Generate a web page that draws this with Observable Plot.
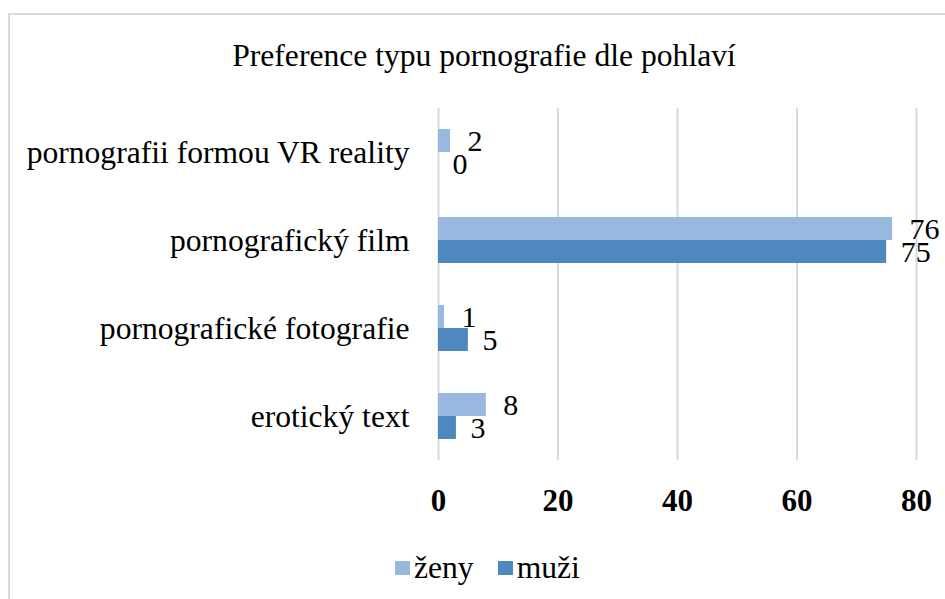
<!DOCTYPE html>
<html>
<head>
<meta charset="utf-8">
<script src="https://cdn.jsdelivr.net/npm/d3@7"></script>
<script src="https://cdn.jsdelivr.net/npm/@observablehq/plot@0.6"></script>
<style>
  html, body { margin: 0; padding: 0; background: #fff; }
  #wrap { position: relative; width: 945px; height: 599px; overflow: hidden; font-family: "Liberation Serif", "Times New Roman", serif; color: #000; }
  #frame { position: absolute; left: 8px; top: 13px; width: 1000px; height: 700px; border: 2px solid #d9d9d9; box-sizing: border-box; }
  #title { position: absolute; left: 8px; width: 952px; top: 40px; text-align: center; font-size: 31.6px; line-height: 31px; white-space: nowrap; }
  #chart { position: absolute; left: 0; top: 0; }
  #legend { position: absolute; left: 395px; top: 552px; height: 31px; display: flex; align-items: center; font-size: 31.6px; line-height: 31px; white-space: nowrap; }
  .sw { display: inline-block; width: 15px; height: 14px; margin-right: 4px; }
  #chart svg [aria-label^="x-axis"] text { font-weight: bold; font-size: 31px; }
</style>
</head>
<body>
<div id="wrap">
  <div id="frame"></div>
  <div id="chart"></div>
  <div id="title"></div>
  <div id="legend"></div>
</div>
<script>
const titleText = "Preference typu pornografie dle pohlaví";
const categories = ["pornografii formou VR reality", "pornografický film", "pornografické fotografie", "erotický text"];
const series = ["ženy", "muži"];
const zeny = [2, 76, 1, 8];
const muzi = [0, 75, 5, 3];
const xTicks = [0, 20, 40, 60, 80];
const colors = ["#97b9df", "#4f88be"];

const rowsZeny = categories.map((c, i) => ({category: c, sex: series[0], value: zeny[i]}));
const rowsMuzi = categories.map((c, i) => ({category: c, sex: series[1], value: muzi[i]}));

const chart = Plot.plot({
  width: 945,
  height: 599,
  marginLeft: 438,
  marginRight: 29,
  marginTop: 108,
  marginBottom: 139,
  style: {fontFamily: "'Liberation Serif', 'Times New Roman', serif", fontSize: "31.6px", color: "#000", background: "transparent", overflow: "visible"},
  x: {domain: [0, 80], ticks: xTicks, tickSize: 0, tickPadding: 28, tickFormat: d => String(d), label: null},
  y: {domain: categories, padding: 0, tickSize: 0, tickPadding: 29, label: null},
  marks: [
    Plot.ruleX(xTicks, {stroke: "#d9d9d9", strokeWidth: 2}),
    Plot.barX(rowsZeny, {x: "value", y: "category", fill: colors[0], insetTop: 21, insetBottom: 44}),
    Plot.barX(rowsMuzi, {x: "value", y: "category", fill: colors[1], insetTop: 44, insetBottom: 21}),
    Plot.text(rowsZeny, {x: "value", y: "category", text: d => String(d.value), textAnchor: "start", dx: 17, dy: -11.5, fontSize: 30, fill: "#000"}),
    Plot.text(rowsMuzi, {x: "value", y: "category", text: d => String(d.value), textAnchor: "start", dx: 14, dy: 12, fontSize: 30, fill: "#000"})
  ]
});
document.getElementById("chart").appendChild(chart);
document.getElementById("title").textContent = titleText;

const legend = document.getElementById("legend");
series.forEach((s, i) => {
  const item = document.createElement("span");
  item.style.display = "inline-flex";
  item.style.alignItems = "center";
  item.style.marginRight = i === 0 ? "24px" : "0";
  const sw = document.createElement("span");
  sw.className = "sw";
  sw.style.background = colors[i];
  const t = document.createElement("span");
  t.textContent = s;
  item.appendChild(sw);
  item.appendChild(t);
  legend.appendChild(item);
});
</script>
</body>
</html>
